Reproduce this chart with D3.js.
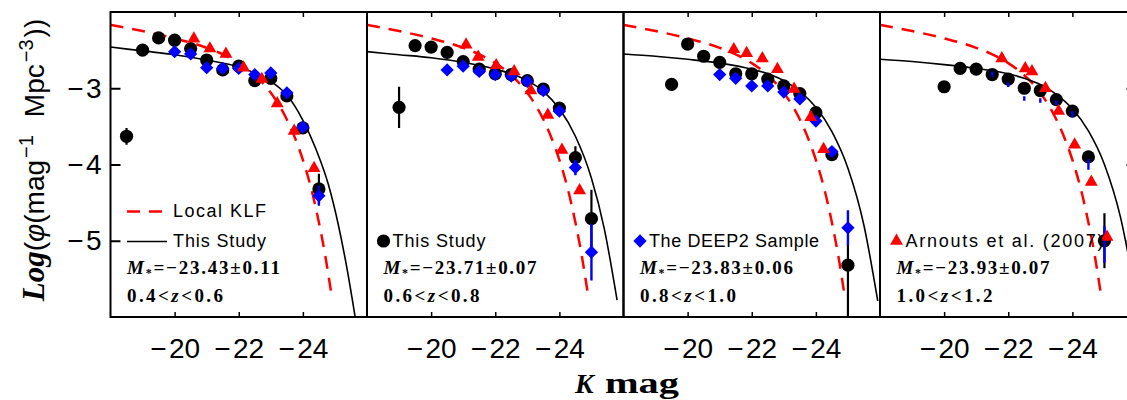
<!DOCTYPE html>
<html><head><meta charset="utf-8">
<script src="https://cdn.jsdelivr.net/npm/d3@7"></script>
<style>body{margin:0;background:#fff;overflow:hidden;} svg{display:block;}</style>
</head><body><svg id="c" width="1127" height="400"></svg>
<script>
// ---------- data ----------
const xDomain = [-18, -26];
const yDomain = [-6, -2];
const xTicks = [-20, -22, -24];
const yTicks = [-3, -4, -5];

// Local KLF (same in all panels)
const localM = [-18, -19, -20, -21, -21.5, -22, -22.5, -23, -23.5, -24, -24.25, -24.5, -24.7, -24.9];
const localV = [-2.17, -2.25, -2.345, -2.47, -2.555, -2.67, -2.83, -3.06, -3.41, -3.94, -4.30, -4.76, -5.20, -5.73];

// "This Study" fits
const fit1M = [-18, -19, -20, -21, -22, -22.5, -23, -23.5, -24, -24.4, -24.8, -25.1, -25.4, -25.65];
const fit1V = [-2.46, -2.51, -2.56, -2.63, -2.72, -2.80, -2.91, -3.09, -3.42, -3.79, -4.27, -4.78, -5.42, -6.05];
const fit2M = [-18, -19, -20, -21, -22, -22.5, -23, -23.5, -24, -24.5, -25, -25.4, -25.8];
const fit2V = [-2.52, -2.56, -2.60, -2.66, -2.75, -2.81, -2.90, -3.04, -3.27, -3.63, -4.18, -4.84, -5.78];
const fit3M = [-18, -19, -20, -21, -22, -22.5, -23, -23.5, -24, -24.5, -25, -25.5, -25.93];
const fit3V = [-2.55, -2.58, -2.62, -2.67, -2.75, -2.81, -2.90, -3.04, -3.25, -3.57, -4.05, -4.80, -5.79];
const fit4M = [-18, -19, -20, -21, -22, -22.5, -23, -23.5, -24, -24.5, -25, -25.5, -26];
const fit4V = [-2.62, -2.65, -2.69, -2.74, -2.81, -2.87, -2.95, -3.08, -3.27, -3.56, -4.00, -4.69, -5.78];

// This Study points (black circles)
const st1M = [-18.5, -19, -19.5, -20, -20.5, -21, -21.5, -22, -22.5, -23, -23.5, -24, -24.5];
const st1V = [-3.63, -2.50, -2.34, -2.37, -2.48, -2.63, -2.76, -2.71, -2.90, -2.87, -3.10, -3.52, -4.32];
const st1Hi = [0.11, 0, 0, 0, 0, 0, 0, 0, 0, 0, 0, 0.03, 0.20];
const st1Lo = [0.11, 0, 0, 0, 0, 0, 0, 0, 0, 0, 0, 0.03, 0.20];
const st2M = [-19, -19.5, -20, -20.5, -21, -21.5, -22, -22.5, -23, -23.5, -24, -24.5, -25];
const st2V = [-3.25, -2.44, -2.46, -2.53, -2.65, -2.75, -2.81, -2.82, -2.90, -3.01, -3.26, -3.91, -4.71];
const st2Hi = [0.27, 0, 0, 0, 0, 0, 0, 0, 0, 0, 0.03, 0.15, 0.38];
const st2Lo = [0.27, 0, 0, 0, 0, 0, 0, 0, 0, 0, 0.03, 0.15, 0.38];
const st3M = [-19.5, -20, -20.5, -21, -21.5, -22, -22.5, -23, -23.5, -24, -24.5, -25];
const st3V = [-2.95, -2.42, -2.58, -2.66, -2.81, -2.81, -2.88, -2.97, -3.07, -3.32, -3.87, -5.32];
const st3Hi = [0.08, 0, 0, 0, 0, 0, 0, 0, 0, 0.03, 0.06, 0.27];
const st3Lo = [0.08, 0, 0, 0, 0, 0, 0, 0, 0, 0.03, 0.06, 1.0];
const st4M = [-20, -20.5, -21, -21.5, -22, -22.5, -23, -23.5, -24, -24.5, -25];
const st4V = [-2.98, -2.74, -2.75, -2.82, -2.88, -3.00, -3.03, -3.15, -3.30, -3.90, -5.00];
const st4Hi = [0, 0, 0, 0, 0, 0, 0, 0, 0, 0.06, 0.36];
const st4Lo = [0, 0, 0, 0, 0, 0, 0, 0, 0, 0.06, 0.36];

// DEEP2 sample (blue diamonds)
const dp1M = [-20, -20.5, -21, -21.5, -22, -22.5, -23, -23.5, -24, -24.5];
const dp1V = [-2.52, -2.55, -2.73, -2.74, -2.74, -2.82, -2.80, -3.06, -3.51, -4.41];
const dp1E = [0, 0, 0, 0, 0, 0, 0, 0, 0.03, 0.13];
const dp2M = [-20.5, -21, -21.5, -22, -22.5, -23, -23.5, -24, -24.5, -25];
const dp2V = [-2.76, -2.71, -2.78, -2.82, -2.84, -2.91, -3.03, -3.30, -4.04, -5.15];
const dp2E = [0, 0, 0, 0, 0, 0, 0, 0.03, 0.10, 0.37];
const dp3M = [-21, -21.5, -22, -22.5, -23, -23.5, -24, -24.5, -25];
const dp3V = [-2.82, -2.87, -2.97, -2.97, -3.05, -3.14, -3.43, -3.83, -4.83];
const dp3E = [0, 0, 0, 0, 0, 0, 0.03, 0.05, 0.23];
const dp4M = [-21.5, -22, -22.5, -23, -23.5, -24, -24.5, -25];
const dp4V = [-2.815, -2.955, -3.135, -3.16, -3.19, -3.34, -4.0, -5.05];
const dp4E = [0.035, 0.03, 0.03, 0.03, 0.03, 0.04, 0.07, 0.24];

// Arnouts et al. (2007) (red triangles)
const ar1M = [-20.6, -21.1, -21.6, -22.15, -22.72, -23.2, -23.73, -24.35];
const ar1V = [-2.35, -2.48, -2.55, -2.73, -2.88, -3.20, -3.56, -4.05];
const ar2M = [-21.09, -21.47, -22.03, -22.59, -23.11, -23.64, -24.08, -24.63];
const ar2V = [-2.43, -2.59, -2.70, -2.78, -3.03, -3.35, -3.81, -4.34];
const ar3M = [-21.44, -21.84, -22.33, -22.8, -23.32, -23.84, -24.24];
const ar3V = [-2.49, -2.54, -2.61, -2.75, -3.01, -3.38, -3.80];
const ar4M = [-21.8, -22.53, -22.74, -23.16, -23.57, -24.07, -24.59, -25.08];
const ar4V = [-2.61, -2.74, -2.78, -3.00, -3.30, -3.74, -4.23, -4.95];

const mStarText = ["\u221223.43\u00b10.11", "\u221223.71\u00b10.07", "\u221223.83\u00b10.06", "\u221223.93\u00b10.07"];
const zLo = ["0.4", "0.6", "0.8", "1.0"];
const zHi = ["0.6", "0.8", "1.0", "1.2"];
const legendText = ["This Study", "This Study", "The DEEP2 Sample", "Arnouts et al. (2007)"];
const legendTop = "Local KLF";

// ---------- assemble ----------
const fits = [[fit1M, fit1V], [fit2M, fit2V], [fit3M, fit3V], [fit4M, fit4V]];
const studies = [[st1M, st1V, st1Hi, st1Lo], [st2M, st2V, st2Hi, st2Lo], [st3M, st3V, st3Hi, st3Lo], [st4M, st4V, st4Hi, st4Lo]];
const deep = [[dp1M, dp1V, dp1E], [dp2M, dp2V, dp2E], [dp3M, dp3V, dp3E], [dp4M, dp4V, dp4E]];
const showDiamond = [true, true, true, false];
const arn = [[ar1M, ar1V], [ar2M, ar2V], [ar3M, ar3V], [ar4M, ar4V]];

const svg = d3.select("#c");
const W = 256.5, TOP = 12, BOT = 317, LEFT0 = 110.5;
const y = d3.scaleLinear().domain(yDomain).range([BOT, TOP]);
const SANS = "Liberation Sans, Arial, sans-serif";
const SERIF = "Liberation Serif, Times New Roman, serif";

const diamond = d3.symbol().type(d3.symbolSquare).size(88);
const tri = d3.symbol().type(d3.symbolTriangle).size(72);
const fmtTick = d => "\u2212\u200a" + Math.abs(d);

for (let i = 0; i < 4; i++) {
  const L = LEFT0 + i * W;
  const x = d3.scaleLinear().domain(xDomain).range([L, L + W]);
  const g = svg.append("g");
  svg.append("clipPath").attr("id", "clip" + i).append("rect")
    .attr("x", L).attr("y", TOP).attr("width", W).attr("height", BOT - TOP);
  const gc = g.append("g").attr("clip-path", `url(#clip${i})`);
  const line = d3.line().x(d => x(d[0])).y(d => y(d[1])).curve(d3.curveMonotoneX);

  gc.append("path").datum(d3.zip(localM, localV)).attr("d", line)
    .attr("fill", "none").attr("stroke", "#ff0000").attr("stroke-width", 2.5).attr("stroke-dasharray", "13,9");
  gc.append("path").datum(d3.zip(fits[i][0], fits[i][1])).attr("d", line)
    .attr("fill", "none").attr("stroke", "#000").attr("stroke-width", 1.6);

  // circles
  const [sM, sV, sHi, sLo] = studies[i];
  const sData = sM.map((m, k) => ({m, v: sV[k], hi: sHi[k], lo: sLo[k]}));
  gc.append("g").selectAll("line").data(sData.filter(d => d.hi > 0 || d.lo > 0)).join("line")
    .attr("x1", d => x(d.m)).attr("x2", d => x(d.m))
    .attr("y1", d => y(d.v + d.hi)).attr("y2", d => y(d.v - d.lo))
    .attr("stroke", "#000").attr("stroke-width", 2.2);
  gc.append("g").selectAll("circle").data(sData).join("circle")
    .attr("cx", d => x(d.m)).attr("cy", d => y(d.v)).attr("r", 6.6).attr("fill", "#000");

  // diamonds
  const [dM, dV, dE] = deep[i];
  const dData = dM.map((m, k) => ({m, v: dV[k], e: dE[k]}));
  gc.append("g").selectAll("line").data(dData.filter(d => d.e > 0)).join("line")
    .attr("x1", d => x(d.m)).attr("x2", d => x(d.m))
    .attr("y1", d => y(d.v + d.e)).attr("y2", d => y(d.v - d.e))
    .attr("stroke", "#0000ff").attr("stroke-width", 2.4);
  if (showDiamond[i]) {
    gc.append("g").selectAll("path").data(dData).join("path")
      .attr("d", diamond)
      .attr("transform", d => `translate(${x(d.m)},${y(d.v)}) rotate(45)`)
      .attr("fill", "#0000ff");
  }

  // triangles
  const [aM, aV] = arn[i];
  gc.append("g").selectAll("path").data(aM.map((m, k) => ({m, v: aV[k]}))).join("path")
    .attr("d", tri)
    .attr("transform", d => `translate(${x(d.m)},${y(d.v)})`)
    .attr("fill", "#ff0000");

  // frame
  g.append("rect").attr("x", L).attr("y", TOP).attr("width", W).attr("height", BOT - TOP)
    .attr("fill", "none").attr("stroke", "#000").attr("stroke-width", 2);

  // axes
  const ab = g.append("g").attr("transform", `translate(0,${BOT})`)
    .call(d3.axisBottom(x).tickValues(xTicks).tickSize(-5).tickPadding(21).tickFormat(fmtTick));
  ab.attr("font-family", SANS).attr("font-size", 28);
  ab.select(".domain").remove();
  ab.selectAll("line").attr("stroke-width", 1.5);
  const at = g.append("g").attr("transform", `translate(0,${TOP})`)
    .call(d3.axisTop(x).tickValues(xTicks).tickSize(-5).tickFormat(""));
  at.select(".domain").remove();
  at.selectAll("line").attr("stroke-width", 1.5);
  if (i === 0) {
    const al = g.append("g").attr("transform", `translate(${L},0)`)
      .call(d3.axisLeft(y).tickValues(yTicks).tickSize(-10).tickPadding(9).tickFormat(fmtTick));
    al.attr("font-family", SANS).attr("font-size", 28);
    al.select(".domain").remove();
    al.selectAll("line").attr("stroke-width", 2);
  }
  if (i === 3) {
    const ar = g.append("g").attr("transform", `translate(${L + W},0)`)
      .call(d3.axisRight(y).tickValues(yTicks).tickSize(-10).tickFormat(""));
    ar.select(".domain").remove();
    ar.selectAll("line").attr("stroke-width", 2);
  }

  // legend
  const lx = L + 16.5;
  if (i === 0) {
    g.append("line").attr("x1", lx).attr("x2", lx + 37).attr("y1", 211.5).attr("y2", 211.5)
      .attr("stroke", "#ff0000").attr("stroke-width", 2.5).attr("stroke-dasharray", "13,9");
    g.append("text").attr("x", lx + 46).attr("y", 217).attr("font-family", SANS).attr("font-size", 18)
      .attr("textLength", 93).attr("lengthAdjust", "spacing").text(legendTop);
    g.append("line").attr("x1", lx).attr("x2", lx + 40).attr("y1", 241.5).attr("y2", 241.5)
      .attr("stroke", "#000").attr("stroke-width", 1.6);
    g.append("text").attr("x", lx + 46).attr("y", 247).attr("font-family", SANS).attr("font-size", 18)
      .attr("textLength", 93).attr("lengthAdjust", "spacing").text(legendText[0]);
  } else {
    if (i === 1) g.append("circle").attr("cx", lx).attr("cy", 241).attr("r", 6.6).attr("fill", "#000");
    if (i === 2) g.append("path").attr("d", diamond).attr("transform", `translate(${lx},241) rotate(45)`).attr("fill", "#0000ff");
    if (i === 3) g.append("path").attr("d", tri).attr("transform", `translate(${lx},241)`).attr("fill", "#ff0000");
    const tl = [0, 93, 170, 198][i];
    g.append("text").attr("x", lx + 9).attr("y", 247).attr("font-family", SANS).attr("font-size", 18)
      .attr("textLength", tl).attr("lengthAdjust", "spacing").text(legendText[i]);
  }
  // M* line
  const mt = g.append("text").attr("x", lx).attr("y", 273.5).attr("font-family", SERIF)
    .attr("font-weight", "bold").attr("font-size", 19).attr("textLength", 153).attr("lengthAdjust", "spacing");
  mt.append("tspan").attr("font-style", "italic").text("M");
  mt.append("tspan").attr("font-size", 12).attr("dy", 3).text("*");
  mt.append("tspan").attr("dy", -3).text("=" + mStarText[i]);
  // z line
  const zt = g.append("text").attr("x", lx).attr("y", 302).attr("font-family", SERIF)
    .attr("font-weight", "bold").attr("font-size", 19).attr("textLength", 96).attr("lengthAdjust", "spacing");
  zt.append("tspan").text(zLo[i] + "<");
  zt.append("tspan").attr("font-style", "italic").text("z");
  zt.append("tspan").text("<" + zHi[i]);
}

// y title
const yt = svg.append("text").attr("transform", "translate(44,160) rotate(-90)")
  .attr("text-anchor", "middle").attr("font-family", SANS).attr("font-size", 28);
yt.append("tspan").attr("font-family", SERIF).attr("font-weight", "bold").attr("font-style", "italic").attr("font-size", 31).text("Log");
yt.append("tspan").text("(");
yt.append("tspan").attr("font-style", "italic").text("\u03c6");
yt.append("tspan").text("(mag");
yt.append("tspan").attr("font-size", 20).attr("dy", -11).attr("dx", 2).text("\u22121");
yt.append("tspan").attr("dy", 11).attr("dx", 18).text("Mpc");
yt.append("tspan").attr("font-size", 20).attr("dy", -11).attr("dx", 2).text("\u22123");
yt.append("tspan").attr("dy", 11).attr("dx", 2).text("))");

// x title
const xt = svg.append("text").attr("y", 393).attr("font-family", SERIF).attr("font-weight", "bold");
xt.append("tspan").attr("x", 575).attr("font-style", "italic").attr("font-size", 28).text("K");
xt.append("tspan").attr("x", 605).attr("font-size", 30).attr("textLength", 74).attr("lengthAdjust", "spacingAndGlyphs").text("mag");
</script></body></html>
